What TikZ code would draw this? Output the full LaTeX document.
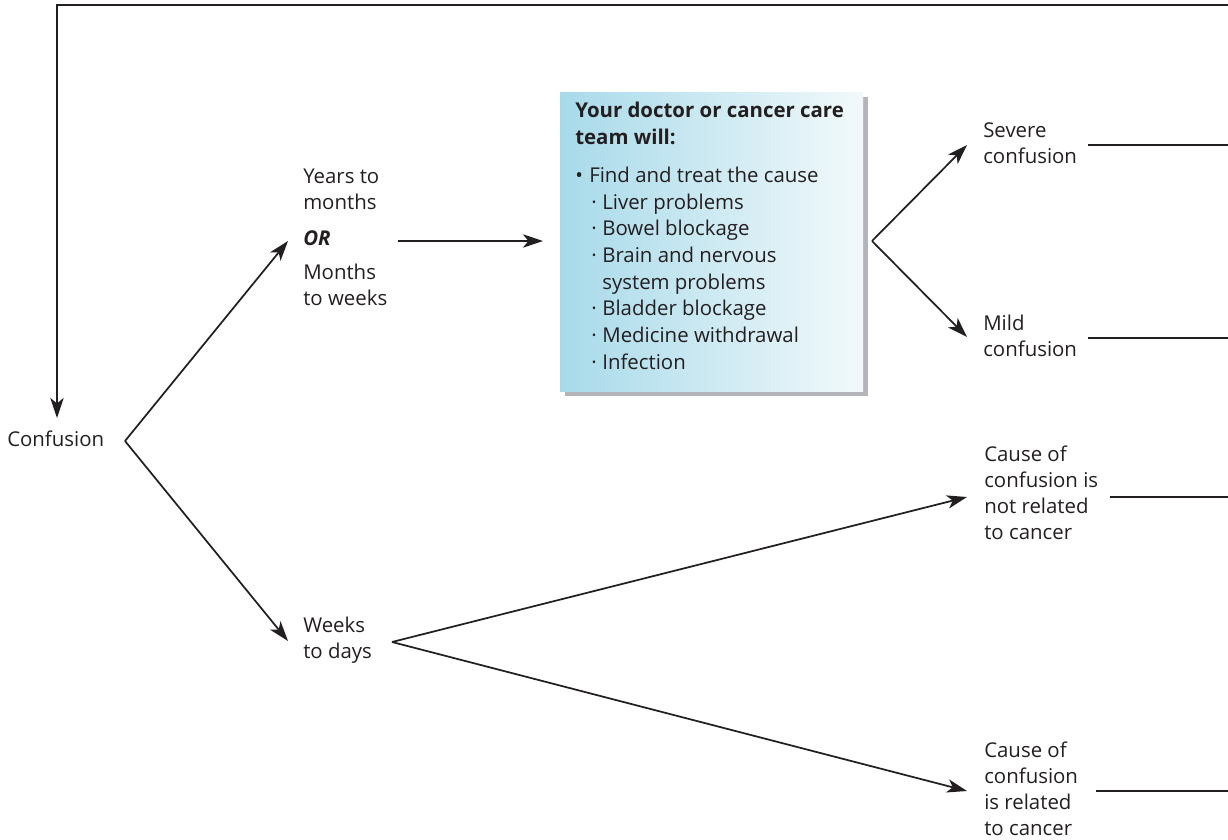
\documentclass[tikz,border=0pt]{standalone}
\usepackage{fontspec}
\setmainfont{Open Sans}
\usetikzlibrary{arrows.meta}
\definecolor{ink}{HTML}{231F20}
\definecolor{boxl}{HTML}{A8DAEA}
\definecolor{boxr}{HTML}{F2F9FB}
\definecolor{boxshadow}{HTML}{B4B5BA}
\newcommand\careitem[1]{\hspace*{12pt}\makebox[8.3pt][l]{·}#1}
\newcommand\carecont[1]{\hspace*{20.3pt}#1}
\begin{document}
\begin{tikzpicture}[x=0.75pt,y=-0.75pt,
  lbl/.style={anchor=base west, inner sep=0pt, align=left, text=ink,
              font=\fontsize{15.3}{19.5}\selectfont},
  link/.style={draw=ink, line width=1.3pt},
  arr/.style={link, -{Stealth[length=15pt,width=10pt,inset=4pt]}},
]
\useasboundingbox (0,0) rectangle (1228,839);

% care box with drop shadow and soft blue gradient
\fill[boxshadow] (565,97) rectangle (868,396);
\shade[left color=boxl, right color=boxr] (560,92) rectangle (863,391);

% labels (base anchor sits on the last line)
\node[lbl] (conf) at (7,446) {Confusion};
\node[lbl] (years) at (303,209) {Years to\\months};
\node[lbl, font=\fontsize{15.3}{19.5}\selectfont\bfseries\itshape] (orl) at (303,245) {OR};
\node[lbl] (months) at (303,305) {Months\\to weeks};
\node[lbl] (weeks) at (303,658) {Weeks\\to days};
\node[lbl, font=\fontsize{15.3}{20}\selectfont] (care) at (575,369)
  {\textbf{Your doctor or cancer care}\\
   \textbf{team will:}\\[8.5pt]
   \makebox[10.5pt][l]{•}Find and treat the cause\\
   \careitem{Liver problems}\\
   \careitem{Bowel blockage}\\
   \careitem{Brain and nervous}\\
   \carecont{system problems}\\
   \careitem{Bladder blockage}\\
   \careitem{Medicine withdrawal}\\
   \careitem{Infection}};
\node[lbl] (severe) at (983,163) {Severe\\confusion};
\node[lbl] (mild) at (983,356) {Mild\\confusion};
\node[lbl] (notrel) at (984,539) {Cause of\\confusion is\\not related\\to cancer};
\node[lbl] (rel) at (984,835) {Cause of\\confusion\\is related\\to cancer};

% junctions, arrow tips and open ends
\coordinate (loopR) at (1228,5);
\coordinate (loopL) at (57,5);
\coordinate (confTop) at (57,418);
\coordinate (cv) at (125,441);
\coordinate (ytip) at (288,241);
\coordinate (wtip) at (288,641);
\coordinate (wv) at (392,642);
\coordinate (tstart) at (398,241);
\coordinate (tend) at (543,241);
\coordinate (bv) at (872,241);
\coordinate (stip) at (967,145);
\coordinate (mtip) at (967,337);
\coordinate (ntip) at (967,497);
\coordinate (rtip) at (967,791);
\coordinate (sout) at (1088,145);
\coordinate (mout) at (1088,338);
\coordinate (nout) at (1110,497);
\coordinate (rout) at (1096,791);

% feedback loop along the top
\draw[arr] (loopR) -- (loopL) -- (confTop);

% first fork
\draw[arr] (cv) -- (ytip);
\draw[arr] (cv) -- (wtip);
\draw[arr] (tstart) -- (tend);

% fork after the care box
\draw[arr] (bv) -- (stip);
\draw[arr] (bv) -- (mtip);

% fork after weeks to days
\draw[arr] (wv) -- (ntip);
\draw[arr] (wv) -- (rtip);

% lines leaving to the right
\draw[link] (sout) -- (sout -| loopR);
\draw[link] (mout) -- (mout -| loopR);
\draw[link] (nout) -- (nout -| loopR);
\draw[link] (rout) -- (rout -| loopR);
\end{tikzpicture}
\end{document}
